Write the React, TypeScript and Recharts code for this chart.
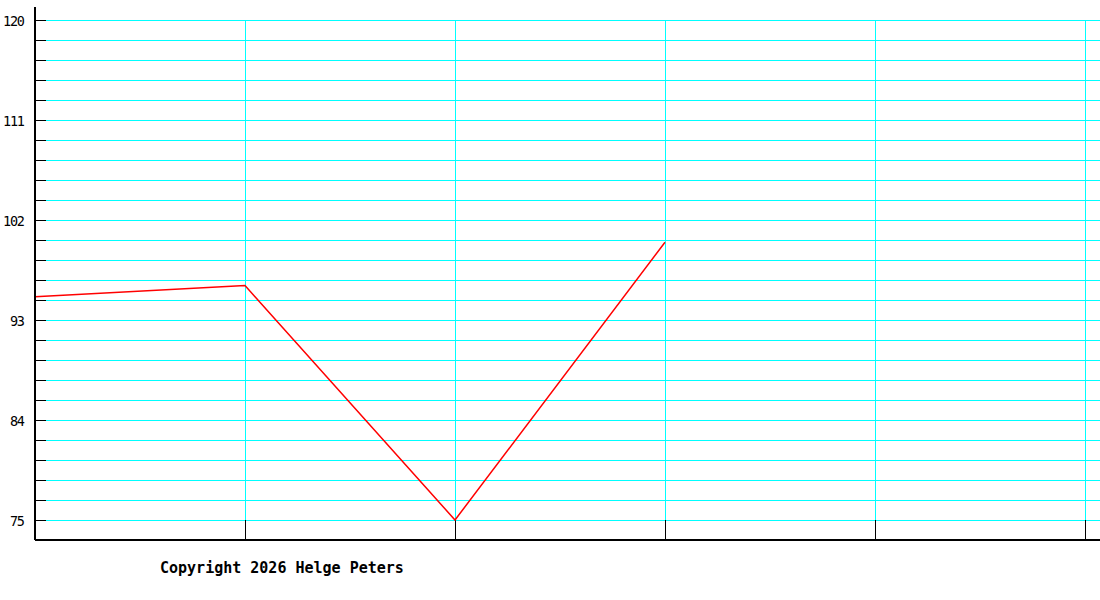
import React from 'react';
import { LineChart, Line, XAxis, YAxis, CartesianGrid, ReferenceLine } from 'recharts';

// days plotted on the x axis (0 = left edge) and the measured values
const dayIndex = [0, 1, 2, 3];
const values = [95.1, 96.1, 75.0, 100.0];

// vertical grid positions (one per day)
const dayTicks = [1, 2, 3, 4, 5];

// labelled y ticks and all minor grid steps
const labelledTicks = [75, 84, 93, 102, 111, 120];
const gridTicks = [
  75, 76.8, 78.6, 80.4, 82.2, 84, 85.8, 87.6, 89.4, 91.2, 93, 94.8, 96.6,
  98.4, 100.2, 102, 103.8, 105.6, 107.4, 109.2, 111, 112.8, 114.6, 116.4,
  118.2, 120,
];

const data = dayIndex.map((d, i) => ({ day: d, value: values[i] }));

const CYAN = '#00ffff';

const YTick = (props: any) => {
  const { x, y, payload } = props;
  const v = payload.value;
  const show = labelledTicks.some((t) => Math.abs(t - v) < 0.01);
  return (
    <g>
      <line x1={x} x2={x + 11} y1={y} y2={y} stroke="#000" strokeWidth={1} shapeRendering="crispEdges" />
      {show && (
        <text
          x={x - 10}
          y={y + 5.5}
          textAnchor="end"
          fontFamily="'DejaVu Sans Mono', monospace"
          fontSize={13.5}
          fill="#000"
          textLength={String(v).length === 3 ? 22 : 15}
        >
          {v}
        </text>
      )}
    </g>
  );
};

const HLine = (props: any) => {
  const { x1, x2, y1, y2 } = props;
  return (
    <line
      key={props.key}
      x1={x1 + 11}
      x2={x2}
      y1={y1}
      y2={y2}
      stroke={CYAN}
      strokeWidth={1}
      shapeRendering="crispEdges"
    />
  );
};

export default function App() {
  return (
    <div style={{ position: 'absolute', left: 0, top: 0, width: 1100, height: 600, background: '#fff' }}>
      <LineChart width={1100} height={600} data={data} margin={{ top: 7, right: 0, bottom: 59, left: 0 }}>
        <CartesianGrid horizontal={HLine} vertical={false} horizontalValues={gridTicks} />
        {dayTicks.map((d) => (
          <ReferenceLine
            key={`v${d}`}
            segment={[{ x: d, y: 75 }, { x: d, y: 120 }]}
            stroke={CYAN}
            strokeWidth={1}
            shapeRendering="crispEdges"
            ifOverflow="visible"
          />
        ))}
        {dayTicks.map((d) => (
          <ReferenceLine
            key={`t${d}`}
            segment={[{ x: d, y: 73.2 }, { x: d, y: 75 }]}
            stroke="#000"
            strokeWidth={1}
            shapeRendering="crispEdges"
            ifOverflow="visible"
          />
        ))}
        <XAxis
          dataKey="day"
          type="number"
          domain={[0, 5.0714]}
          ticks={dayTicks}
          tick={false}
          tickLine={false}
          height={1}
          axisLine={{ stroke: '#000', strokeWidth: 2 }}
          allowDataOverflow
        />
        <YAxis
          type="number"
          domain={[73.2, 121.17]}
          ticks={gridTicks}
          interval={0}
          tick={<YTick />}
          tickLine={false}
          tickSize={0}
          tickMargin={0}
          width={35}
          axisLine={{ stroke: '#000', strokeWidth: 2 }}
          allowDataOverflow
        />
        <Line
          type="linear"
          dataKey="value"
          stroke="#ff0000"
          strokeWidth={1.5}
          dot={false}
          activeDot={false}
          isAnimationActive={false}
        />
      </LineChart>
      <div
        style={{
          position: 'absolute',
          left: 160,
          top: 559,
          fontFamily: "'DejaVu Sans Mono', monospace",
          fontWeight: 'bold',
          fontSize: 15,
          color: '#000',
          whiteSpace: 'pre',
        }}
      >
        Copyright 2026 Helge Peters
      </div>
    </div>
  );
}
